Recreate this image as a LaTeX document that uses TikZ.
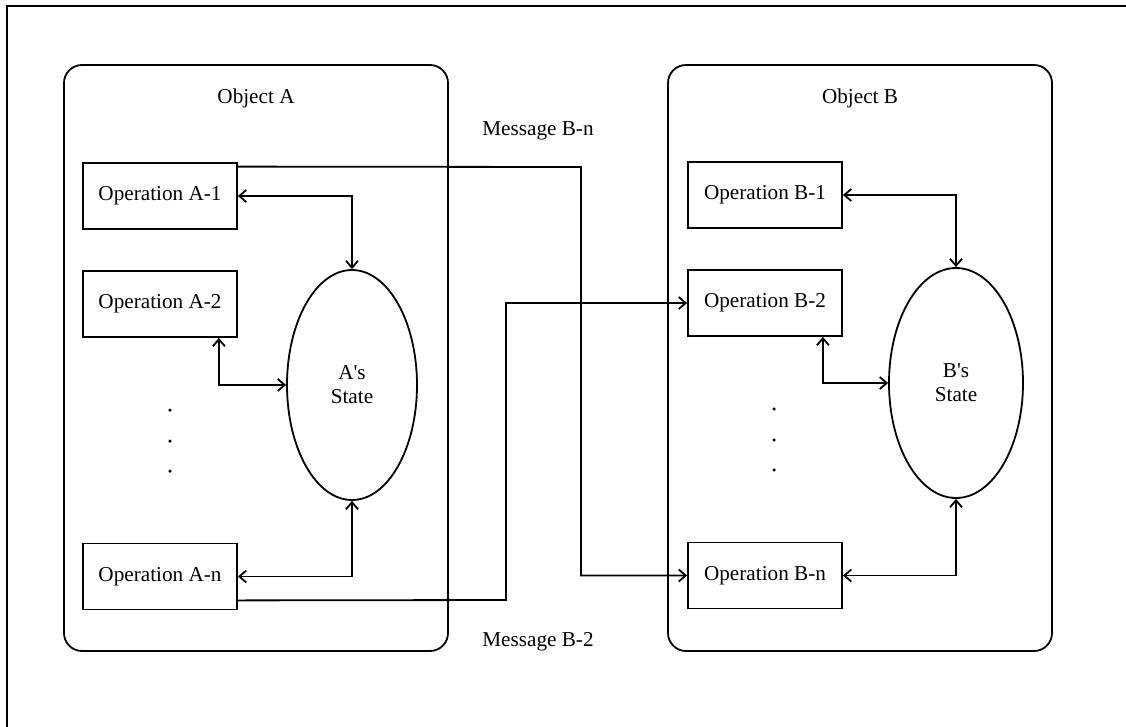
\documentclass[tikz,border=0pt]{standalone}
\usepackage{fontspec}
\setmainfont{Liberation Serif}
\usetikzlibrary{arrows.meta,shapes.geometric,calc}
\begin{document}
\begin{tikzpicture}[x=1pt,y=-1pt,
  line width=1.8pt,
  every node/.style={font=\fontsize{21.2}{24}\selectfont},
  objbox/.style={draw,rounded corners=18pt,minimum width=384pt,minimum height=586pt,inner sep=0pt},
  opbox/.style={draw,minimum width=154pt,minimum height=66pt,inner sep=0pt},
  statebox/.style={draw,ellipse,inner sep=0pt,align=center},
  dotmark/.style={circle,fill,inner sep=0pt,minimum size=3.5pt},
  biarrow/.style={{Straight Barb[length=7pt,width=12pt]}-{Straight Barb[length=7pt,width=12pt]}},
  onearrow/.style={-{Straight Barb[length=7pt,width=12pt]}}]
\useasboundingbox (0,0) rectangle (1126,726);
% outer frame (only top and left edges visible)
\coordinate (frTR) at (1130,6);
\coordinate (frBL) at (7,730);
\draw (frTR) -| (frBL);
% objects
\node[objbox] (objA) at (256,358) {};
\node[objbox] (objB) at (860,358) {};
\node (labA) at (256,98) {Object A};
\node (labB) at (860,98) {Object B};
% operations A
\node[opbox] (A1) at (160,196) {Operation A-1};
\node[opbox] (A2) at (160,304) {Operation A-2};
\node[opbox] (An) at (160,576.5) {Operation A-n};
% operations B
\node[opbox] (B1) at (765,195) {Operation B-1};
\node[opbox] (B2) at (765,303) {Operation B-2};
\node[opbox] (Bn) at (765,575.5) {Operation B-n};
% states
\node[statebox,minimum width=130pt,minimum height=230pt] (As) at (352,385) {A\textquotesingle s\\State};
\node[statebox,minimum width=134pt,minimum height=230pt] (Bs) at (956,383) {B\textquotesingle s\\State};
% dots
\node[dotmark] (da1) at (170,410) {};
\node[dotmark] (da2) at (170,441) {};
\node[dotmark] (da3) at (170,471) {};
\node[dotmark] (db1) at (774,409) {};
\node[dotmark] (db2) at (774,440) {};
\node[dotmark] (db3) at (774,470) {};
% message labels
\node (mBn) at (538,131) {Message B-n};
\node (mB2) at (538,642) {Message B-2};
% internal connectors A
\draw[biarrow] (A1.east) -| (As.north);
\draw[biarrow] ($(A2.south east)+(-19,0)$) |- (As.west);
\draw[biarrow] (An.east) -| (As.south);
% internal connectors B
\draw[biarrow] (B1.east) -| (Bs.north);
\draw[biarrow] ($(B2.south east)+(-20,0)$) |- (Bs.west);
\draw[biarrow] (Bn.east) -| (Bs.south);
% messages
\coordinate (kn) at (581,167);
\draw[onearrow] ($(A1.north east)+(0,4.5)$) -- (kn) |- (Bn.west);
\coordinate (k2) at (506,600);
\draw[onearrow] ($(An.south east)+(0,-10)$) -- (k2) |- (B2.west);
\end{tikzpicture}
\end{document}
